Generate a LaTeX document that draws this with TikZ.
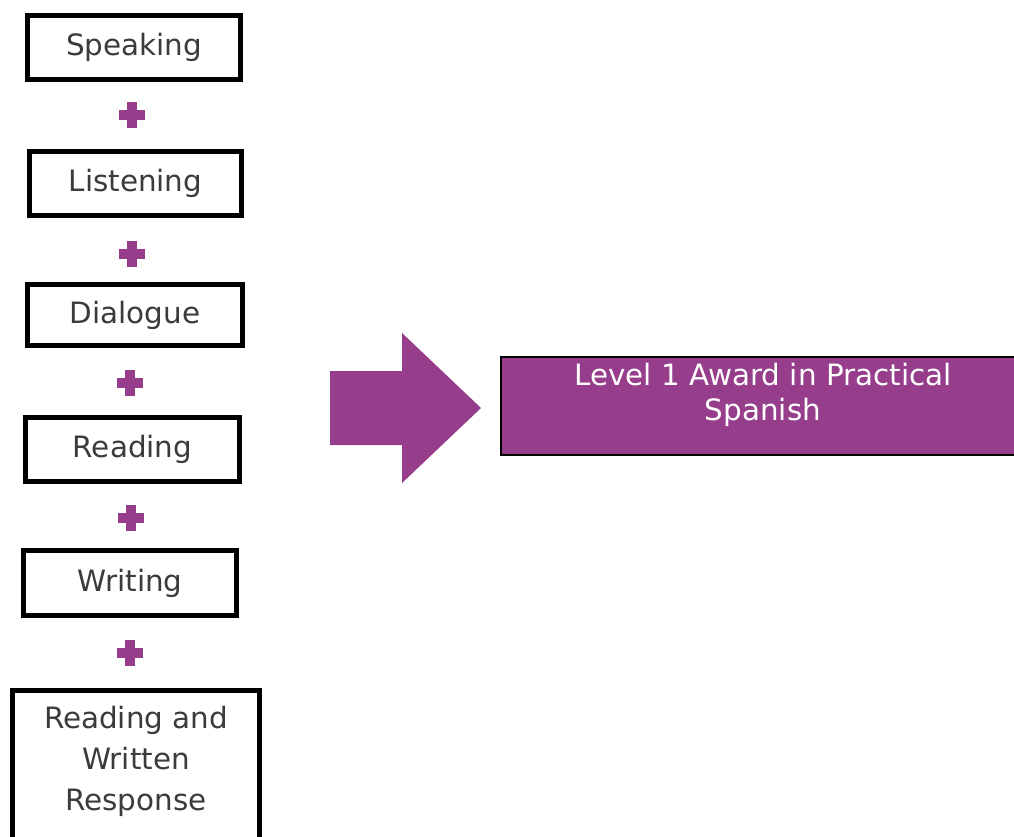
\documentclass[tikz,border=0pt]{standalone}
\usepackage{fontspec}
\setmainfont{DejaVu Sans}
\definecolor{plum}{RGB}{150,61,140}
\definecolor{txtgray}{RGB}{60,58,58}
\begin{document}
\begin{tikzpicture}[x=1pt,y=-1pt,
  box/.style={draw=black, line width=4.6pt, fill=white, text=txtgray,
    font=\fontsize{29.4}{41}\selectfont, align=center, inner sep=0pt},
  boxtext/.style={text=txtgray, font=\fontsize{29.4}{41}\selectfont, align=center, inner sep=0pt},
  awardbox/.style={draw=black, line width=2.2pt, fill=plum, inner sep=0pt},
  awardtext/.style={text=white, font=\fontsize{29.4}{35}\selectfont, align=center, inner sep=0pt},
  plussign/.pic={\fill[plum] (-13,-5) rectangle (13,5); \fill[plum] (-5,-13) rectangle (5,13);}]
\useasboundingbox (0,0) rectangle (1014,836);
\clip (0,0) rectangle (1014,836);
\node[box, minimum width=213pt, minimum height=64pt] (speaking) at (134,47.5) {Speaking};
\node[box, minimum width=212pt, minimum height=64pt] (listening) at (135.5,183.5) {Listening};
\node[box, minimum width=215pt, minimum height=61pt] (dialogue) at (135,315) {Dialogue};
\node[box, minimum width=214pt, minimum height=64pt] (reading) at (132.5,449.5) {Reading};
\node[box, minimum width=213pt, minimum height=65pt] (writing) at (130,583) {Writing};
\node[box, minimum width=247pt, minimum height=190pt, anchor=north] (rwr) at (136,688.3) {};
\node[boxtext] (rwrtext) at (136,761) {Reading and\\Written\\Response};
\pic at (132,115) {plussign};
\pic at (132,254) {plussign};
\pic at (130,383) {plussign};
\pic at (131,518) {plussign};
\pic at (129.5,653) {plussign};
\fill[plum] (330,371) -- (402,371) -- (402,333) -- (481,408) -- (402,483) -- (402,445) -- (330,445) -- cycle;
\node[awardbox, minimum width=524pt, minimum height=98pt] (award) at (763,406) {};
\node[awardtext] (awardlabel) at (763,394.5) {Level 1 Award in Practical\\Spanish};
\end{tikzpicture}
\end{document}
